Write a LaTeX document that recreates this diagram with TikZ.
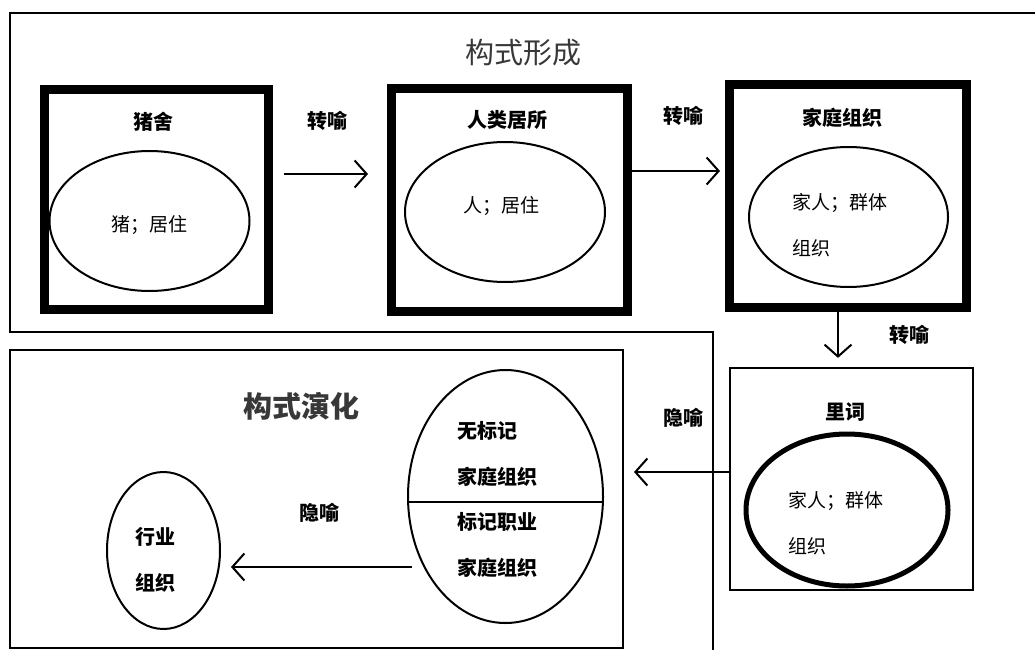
\documentclass[tikz,border=0pt]{standalone}
\usepackage{fontspec}
\setmainfont{Noto Sans CJK SC}
\usetikzlibrary{arrows.meta,shapes.geometric}
\begin{document}
\begin{tikzpicture}[x=1pt,y=-1pt,
  thickbox/.style={draw, rectangle, line width=9pt, inner sep=0pt},
  thinbox/.style={draw, rectangle, line width=2.2pt, inner sep=0pt},
  ell/.style={draw, ellipse, line width=2pt, inner sep=0pt},
  frame/.style={draw, line width=2pt},
  arr/.style={-{Straight Barb[length=12pt,width=27pt,line width=2pt]}, line width=2pt},
  body/.style={font=\fontsize{19}{46}\selectfont, align=left, inner sep=0pt},
  lab/.style={font=\bfseries\fontsize{20}{46}\selectfont, align=left, inner sep=0pt},
  head/.style={font=\fontsize{29}{34}\selectfont, text=black!78, inner sep=0pt}]
\useasboundingbox (0,0) rectangle (1035,650);
% frames
\draw[frame] (1035,13) -- (10,13) -- (10,332) -- (713,332) -- (713,650);
\draw[frame] (10,350) rectangle (623,648);
% headings
\node[head] (h1) at (523,53) {构式形成};
\node[head, font=\bfseries\fontsize{29}{34}\selectfont] (h2) at (301,406) {构式演化};
% boxes
\node[thickbox, minimum width=224pt, minimum height=219pt] (b1) at (156,199.5) {};
\node[thickbox, minimum width=236pt, minimum height=222pt] (b2) at (509,200) {};
\node[thickbox, minimum width=237pt, minimum height=222.5pt] (b3) at (848,196) {};
\node[thinbox, minimum width=243pt, minimum height=222pt] (b4) at (851.5,479) {};
% titles
\node[lab] (t1) at (153,121.5) {猪舍};
\node[lab] (t2) at (507,120) {人类居所};
\node[lab] (t3) at (842,118) {家庭组织};
\node[lab] (t4) at (845.5,412.5) {里词};
% ellipses
\node[ell, minimum width=200pt, minimum height=140pt] (e1) at (149.5,221) {};
\node[ell, minimum width=200pt, minimum height=140pt] (e2) at (505,212) {};
\node[ell, minimum width=199pt, minimum height=140pt] (e3) at (848.5,217) {};
\node[ell, line width=5pt, minimum width=202pt, minimum height=152pt] (e4) at (847,510) {};
\node[ell, minimum width=195pt, minimum height=253pt] (e5) at (505.5,496.5) {};
\node[ell, minimum width=113pt, minimum height=157pt] (e6) at (163.5,550.5) {};
\draw[line width=2pt] ([yshift=-5.5pt]e5.west) -- ([yshift=-5.5pt]e5.east);
% ellipse texts
\node[body] (x1) at (149,225) {猪；居住};
\node[body] (x2) at (501,206) {人；居住};
\node[body, anchor=west] (x3) at (792,225) {家人；群体\\组织};
\node[body, anchor=west] (x4) at (788,523) {家人；群体\\组织};
\node[lab, anchor=west] (x5) at (457,453.5) {无标记\\家庭组织};
\node[lab, anchor=west] (x6) at (457,545) {标记职业\\家庭组织};
\node[lab, anchor=west] (x7) at (135,560) {行业\\组织};
% arrow labels
\node[lab] (l1) at (327,120.5) {转喻};
\node[lab] (l2) at (683,116) {转喻};
\node[lab] (l3) at (909.5,335) {转喻};
\node[lab] (l4) at (683,418) {隐喻};
\node[lab] (l5) at (319.5,512.5) {隐喻};
% arrows
\draw[arr] ([xshift=11.5pt,yshift=25.5pt]b1.east) -- ([xshift=-18.5pt,yshift=26pt]b2.west);
\draw[arr] ([yshift=29pt]b2.east) -- ([xshift=-5pt,yshift=25pt]b3.west);
\draw[arr] ([xshift=-10pt]b3.south) -- ([xshift=-13.5pt,yshift=9pt]b4.north);
\draw[arr] ([yshift=7pt]b4.west) -- ([xshift=30pt,yshift=24.5pt]e5.east);
\draw[arr] ([xshift=5pt,yshift=-70.5pt]e5.west) -- ([xshift=10pt,yshift=-16.5pt]e6.east);
\end{tikzpicture}
\end{document}
